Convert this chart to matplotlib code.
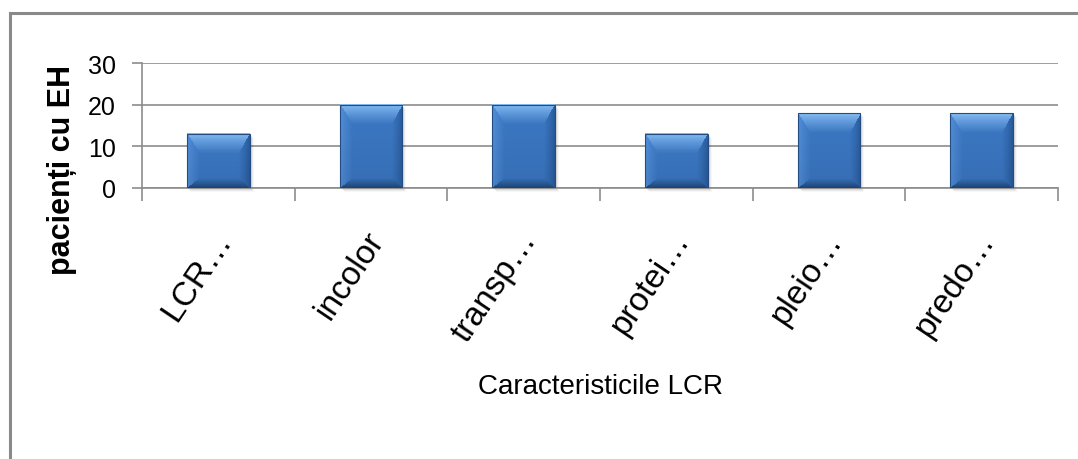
import matplotlib
matplotlib.use("Agg")
import numpy as np
import matplotlib.pyplot as plt
from matplotlib.patches import Rectangle
from matplotlib.colors import to_rgb
from matplotlib.transforms import ScaledTranslation

plt.rcParams['font.family'] = ['Liberation Sans', 'DejaVu Sans']

categories = ["LCR…", "incolor", "transp…", "protei…", "pleio…", "predo…"]
patients = [13, 20, 20, 13, 18, 18]
y_ticks = [0, 10, 20, 30]

W, H = 1078, 460
AX_L, AX_R, AX_TOP, AX_BOT = 142, 1058, 64, 189

fig = plt.figure(figsize=(W / 100, H / 100), dpi=100)
ax = fig.add_axes([AX_L / W, 1 - AX_BOT / H, (AX_R - AX_L) / W, (AX_BOT - AX_TOP) / H])

x = np.arange(len(categories))
bars = ax.bar(x, patients, width=0.41, color="none", edgecolor="#234c82",
              linewidth=0.8, zorder=5)

ax.set_xlim(-0.5, len(categories) - 0.5)
ax.set_ylim(0, 30)

# data units per pixel
ux = len(categories) / (AX_R - AX_L)
uy = 30 / (AX_BOT - AX_TOP)

face = np.array(to_rgb("#3b78c4"))
top_c = np.array(to_rgb("#8cc2f7"))
bot_c = np.array(to_rgb("#1d4477"))
left_c = np.array(to_rgb("#5592dc"))
right_c = np.array(to_rgb("#28599a"))


def bevel_image(w_px, h_px, bt=20, bb=10, bl=13, br=11):
    """Shaded bar face with mitred bevel edges."""
    yy, xx = np.mgrid[0:h_px, 0:w_px] + 0.5
    d_top = yy / bt
    d_bot = (h_px - yy) / bb
    d_left = xx / bl
    d_right = (w_px - xx) / br
    d = np.stack([d_top, d_bot, d_left, d_right])
    which = d.argmin(axis=0)
    t = np.clip(d.min(axis=0), 0, 1)[..., None] ** 0.8
    edge = np.stack([top_c, bot_c, left_c, right_c])[which]
    img = edge * (1 - t) + face * t
    # slight vertical darkening of the flat face
    shade = 1 - 0.08 * (yy / h_px)[..., None]
    return np.clip(img * shade, 0, 1)


for b in bars:
    x0, w, h = b.get_x(), b.get_width(), b.get_height()
    w_px, h_px = int(round(w / ux)), int(round(h / uy))
    # soft shadow under each bar
    for k, a in zip(range(1, 5), [0.10, 0.07, 0.05, 0.03]):
        ax.add_patch(Rectangle((x0 + k * ux, -k * uy), w, h, facecolor="#000000",
                               alpha=a, linewidth=0, zorder=2, clip_on=False))
    ax.imshow(bevel_image(w_px, h_px), extent=(x0, x0 + w, 0, h), origin="upper",
              aspect="auto", interpolation="bilinear", zorder=4)

ax.set_xlim(-0.5, len(categories) - 0.5)
ax.set_ylim(0, 30)

# gridlines and axes
ax.set_yticks(y_ticks)
ax.yaxis.grid(True, color="#8c8c8c", linewidth=1.2, zorder=1)
for s in ["top", "right"]:
    ax.spines[s].set_visible(False)
for s in ["left", "bottom"]:
    ax.spines[s].set_color("#8c8c8c")
    ax.spines[s].set_linewidth(1.2)
ax.tick_params(axis="y", length=7, width=1.2, color="#8c8c8c", pad=12,
               labelsize=18, labelcolor="#000000")

# category boundaries as major ticks, names on minor ticks
ax.set_xticks(np.arange(len(categories) + 1) - 0.5)
ax.set_xticklabels([])
ax.tick_params(axis="x", which="major", length=9, width=1.2, color="#8c8c8c")
ax.set_xticks(x, minor=True)
ax.set_xticklabels(categories, minor=True, rotation=56, ha="right",
                   rotation_mode="anchor", fontsize=24)
ax.tick_params(axis="x", which="minor", length=0, pad=27)
for lbl in ax.get_xticklabels(minor=True):
    lbl.set_transform(lbl.get_transform() + ScaledTranslation(-0.06, 0, fig.dpi_scale_trans))

fig.text(62 / W, 1 - 170 / H, "pacienți cu EH", rotation=90, fontsize=22,
         fontweight="bold", ha="center", va="center")
fig.text(600 / W, 1 - 387 / H, "Caracteristicile LCR", fontsize=20,
         ha="center", va="center")

# chart frame
fig.add_artist(Rectangle((9.5 / W, -0.05), 1.1, 1 - 13.5 / H + 0.05,
                         transform=fig.transFigure, facecolor="none",
                         edgecolor="#8a8a8a", linewidth=2.2, clip_on=False))

fig.savefig("out.png", dpi=100)
